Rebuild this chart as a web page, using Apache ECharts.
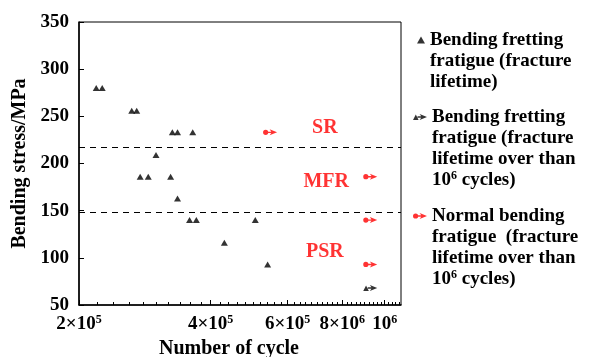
<!DOCTYPE html>
<html><head><meta charset="utf-8">
<script src="https://cdn.jsdelivr.net/npm/echarts@6/dist/echarts.min.js"></script>
<style>html,body{margin:0;padding:0;background:#fff}#c{width:594px;height:357px}</style>
</head><body><div id="c"></div>
<script>
// ---- data ----
const fractureCycles = [2.19e5, 2.26e5, 2.64e5, 2.71e5, 3.27e5, 3.36e5, 3.64e5, 3.00e5, 2.76e5, 2.88e5, 3.24e5, 3.36e5, 3.58e5, 3.71e5, 5.06e5, 4.30e5, 5.40e5];
const fractureStress = [280, 280, 256, 256, 233, 233, 233, 209, 186, 186, 186, 163, 140, 140, 140, 116, 93];
const frettingRunoutCycles = [9.27e5];
const frettingRunoutStress = [68];
const normalRunoutCycles = [5.47e5, 9.27e5, 9.27e5, 9.27e5];
const normalRunoutStress = [233, 186, 140, 93];
const boundaryStress = [217, 148];
const regionNames = ['SR', 'MFR', 'PSR'];
const regionCycles = [7.3e5, 7.35e5, 7.3e5];
const regionStress = [238, 181, 106];
const xTickValues = [2e5, 4e5, 6e5, 8e5, 1e6];
const xTickLabels = ['{n|2×10}{s|5}', '{n|4×10}{s|5}', '{n|6×10}{s|5}', '{n|8×10}{s|6}', '{n|10}{s|6}'];
const xMin = 2e5, xMax = 1.09e6;
const yMin = 50, yMax = 350, yStep = 50;
const seriesNames = [
  'Bending fretting fratigue (fracture lifetime)',
  'Bending fretting fratigue (fracture lifetime over than 10^6 cycles)',
  'Normal bending fratigue (fracture lifetime over than 10^6 cycles)'
];
const legendTexts = [
  'Bending fretting\nfratigue (fracture\nlifetime)',
  'Bending fretting\nfratigue (fracture\nlifetime over than\n{n|10}{s|6}{n| cycles)}',
  'Normal bending\nfratigue  (fracture\nlifetime over than\n{n|10}{s|6}{n| cycles)}'
];

// ---- styling ----
const FONT = '"Liberation Serif", "Times New Roman", serif';
const RED = '#ff0000';
const lg = Math.log10;
const redArrow = 'path://M2.6,0.4 A2.6,2.6 0 1,1 2.6,5.6 A2.6,2.6 0 1,1 2.6,0.4 Z M4,2.3 L8.2,2.3 L6.6,0 L14,3 L6.6,6 L8.2,3.7 L4,3.7 Z';
const blackArrow = 'path://M0,6 L2.8,0.4 L5.6,6 Z M4.5,2.3 L8.2,2.3 L6.6,0 L14,3 L6.6,6 L8.2,3.7 L4.5,3.7 Z';

const minorTicks = [];
for (let v = 2.2e5; v < xMax; v += 0.2e5) {
  if (!xTickValues.some(t => Math.abs(t - v) < 1)) minorTicks.push(lg(v));
}

const rich = {
  n: {fontFamily: FONT, fontWeight: 'bold', fontSize: 19, color: '#000', lineHeight: 21},
  s: {fontFamily: FONT, fontWeight: 'bold', fontSize: 12, color: '#000', lineHeight: 12, verticalAlign: 'top'}
};
const LH = 21;
function legendText(i, n) {
  return {
    fontFamily: FONT, fontWeight: 'bold', fontSize: 19, color: '#000', lineHeight: LH,
    padding: [(n - 1) * LH, 0, 0, 0], rich: rich
  };
}
const centers = [40, 117, 216];
const lineCounts = [3, 4, 4];
function legendTop(i) { return centers[i] - (2 * lineCounts[i] - 1) * LH / 2; }

const chart = echarts.init(document.getElementById('c'), null, {renderer: 'canvas'});
chart.setOption({
  animation: false,
  backgroundColor: '#fff',
  grid: {left: 79, top: 22, right: 193, bottom: 52, outerBoundsMode: 'none', containLabel: false,
    show: true, borderColor: '#000', borderWidth: 1, backgroundColor: 'transparent'},
  xAxis: [{
    type: 'value', min: lg(xMin), max: lg(xMax),
    name: 'Number of cycle', nameLocation: 'middle', nameGap: 32,
    nameTextStyle: {fontFamily: FONT, fontWeight: 'bold', fontSize: 20, color: '#000', padding: [0, 22, 0, 0]},
    axisLine: {show: true, lineStyle: {color: '#000', width: 1.5}},
    axisTick: {show: true, inside: true, length: 5, customValues: xTickValues.map(lg), lineStyle: {color: '#000', width: 1}},
    axisLabel: {
      show: true, margin: 9, customValues: xTickValues.map(lg),
      formatter: function (v) {
        let best = 0;
        xTickValues.forEach((t, i) => { if (Math.abs(lg(t) - v) < Math.abs(lg(xTickValues[best]) - v)) best = i; });
        return xTickLabels[best];
      },
      rich: rich
    },
    splitLine: {show: false}
  }, {
    type: 'value', min: lg(xMin), max: lg(xMax), position: 'bottom',
    axisLine: {show: false},
    axisTick: {show: true, inside: true, length: 3, customValues: minorTicks, lineStyle: {color: '#000', width: 1}},
    axisLabel: {show: false},
    splitLine: {show: false}
  }],
  yAxis: {
    type: 'value', min: yMin, max: yMax, interval: yStep,
    name: 'Bending stress/MPa', nameLocation: 'middle', nameGap: 46, nameRotate: 90,
    nameTextStyle: {fontFamily: FONT, fontWeight: 'bold', fontSize: 20, color: '#000'},
    axisLine: {show: true, lineStyle: {color: '#000', width: 1.5}},
    axisTick: {show: true, inside: true, length: 5, lineStyle: {color: '#000', width: 1}},
    axisLabel: {fontFamily: FONT, fontWeight: 'bold', fontSize: 19, color: '#000', margin: 10},
    splitLine: {show: false}
  },
  legend: [0, 1, 2].map(i => ({
    data: [seriesNames[i]],
    orient: 'vertical',
    left: i === 0 ? 417 : 413,
    top: legendTop(i),
    padding: 0,
    selectedMode: false,
    itemWidth: i === 0 ? 8 : 14,
    itemHeight: i === 0 ? 7 : 6,
    itemTextGap: i === 0 ? 12 : 10,
    icon: i === 0 ? 'triangle' : (i === 1 ? blackArrow : redArrow),
    itemStyle: {color: i === 2 ? RED : '#000'},
    formatter: () => legendTexts[i],
    textStyle: legendText(i, lineCounts[i])
  })),
  series: [{
    name: seriesNames[0], type: 'scatter', symbol: 'triangle', symbolSize: [7, 6],
    itemStyle: {color: '#000'},
    data: fractureCycles.map((c, i) => [lg(c), fractureStress[i]]),
    markLine: {
      silent: true, symbol: ['none', 'none'], label: {show: false},
      lineStyle: {color: '#000', type: [6, 5], width: 1},
      data: boundaryStress.map(s => ({yAxis: s}))
    }
  }, {
    name: seriesNames[1], type: 'scatter', symbol: blackArrow, symbolSize: [14, 6],
    itemStyle: {color: '#000'},
    data: frettingRunoutCycles.map((c, i) => [lg(c), frettingRunoutStress[i]])
  }, {
    name: seriesNames[2], type: 'scatter', symbol: redArrow, symbolSize: [14, 6],
    itemStyle: {color: RED},
    data: normalRunoutCycles.map((c, i) => [lg(c), normalRunoutStress[i]])
  }, {
    name: 'regions', type: 'scatter', symbolSize: 1, silent: true,
    itemStyle: {color: 'rgba(0,0,0,0)'},
    label: {show: true, position: 'inside', formatter: p => p.name,
      fontFamily: FONT, fontWeight: 'bold', fontSize: 20, color: RED},
    data: regionNames.map((n, i) => ({name: n, value: [lg(regionCycles[i]), regionStress[i]]}))
  }]
});
</script></body></html>
